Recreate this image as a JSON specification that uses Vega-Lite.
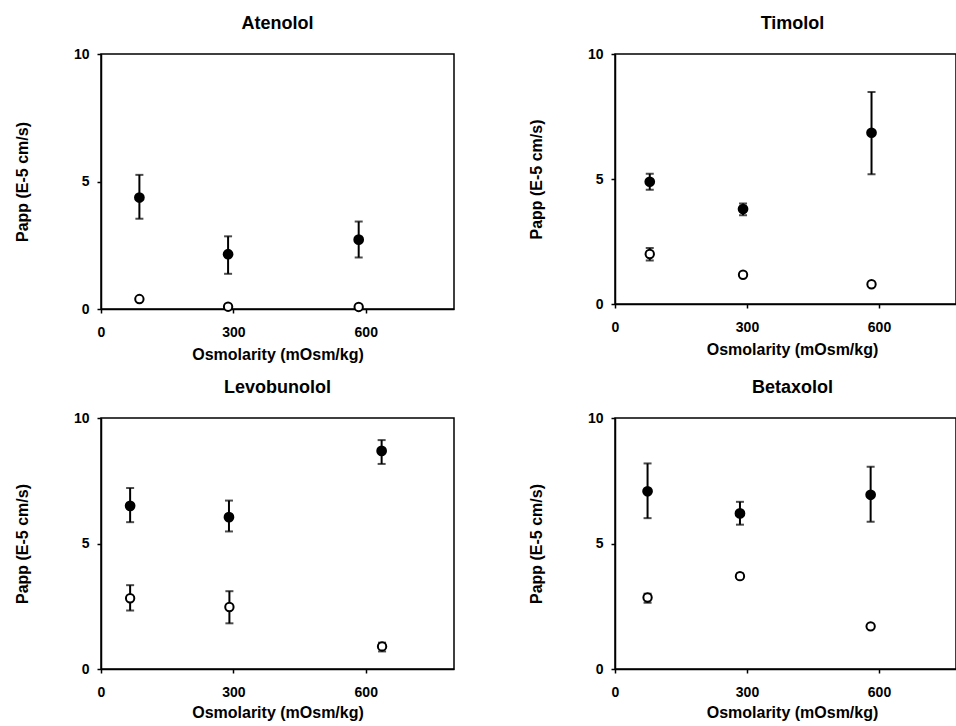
{
  "$schema": "https://vega.github.io/schema/vega-lite/v6.json",
  "background": "white",
  "padding": {"left": 13, "top": 14, "right": 0, "bottom": 0},
  "datasets": {
    "pts": [
      {"drug": "Atenolol", "cond": "filled", "x": 87, "y": 4.37, "lo": 3.54, "hi": 5.26},
      {"drug": "Atenolol", "cond": "filled", "x": 288, "y": 2.15, "lo": 1.38, "hi": 2.85},
      {"drug": "Atenolol", "cond": "filled", "x": 584, "y": 2.72, "lo": 2.02, "hi": 3.43},
      {"drug": "Atenolol", "cond": "open", "x": 87, "y": 0.39, "lo": null, "hi": null},
      {"drug": "Atenolol", "cond": "open", "x": 288, "y": 0.09, "lo": null, "hi": null},
      {"drug": "Atenolol", "cond": "open", "x": 584, "y": 0.08, "lo": null, "hi": null},
      {"drug": "Timolol", "cond": "filled", "x": 79, "y": 4.89, "lo": 4.57, "hi": 5.21},
      {"drug": "Timolol", "cond": "filled", "x": 291, "y": 3.8, "lo": 3.55, "hi": 4.02},
      {"drug": "Timolol", "cond": "filled", "x": 583, "y": 6.85, "lo": 5.19, "hi": 8.48},
      {"drug": "Timolol", "cond": "open", "x": 79, "y": 2.0, "lo": 1.74, "hi": 2.24},
      {"drug": "Timolol", "cond": "open", "x": 291, "y": 1.17, "lo": null, "hi": null},
      {"drug": "Timolol", "cond": "open", "x": 583, "y": 0.79, "lo": null, "hi": null},
      {"drug": "Levobunolol", "cond": "filled", "x": 66, "y": 6.5, "lo": 5.85, "hi": 7.21},
      {"drug": "Levobunolol", "cond": "filled", "x": 290, "y": 6.05, "lo": 5.48, "hi": 6.71},
      {"drug": "Levobunolol", "cond": "filled", "x": 636, "y": 8.69, "lo": 8.17, "hi": 9.12},
      {"drug": "Levobunolol", "cond": "open", "x": 66, "y": 2.82, "lo": 2.33, "hi": 3.34},
      {"drug": "Levobunolol", "cond": "open", "x": 291, "y": 2.47, "lo": 1.82, "hi": 3.1},
      {"drug": "Levobunolol", "cond": "open", "x": 637, "y": 0.9, "lo": 0.7, "hi": 1.05},
      {"drug": "Betaxolol", "cond": "filled", "x": 74, "y": 7.08, "lo": 6.01, "hi": 8.19},
      {"drug": "Betaxolol", "cond": "filled", "x": 284, "y": 6.2, "lo": 5.75, "hi": 6.66},
      {"drug": "Betaxolol", "cond": "filled", "x": 581, "y": 6.94, "lo": 5.87, "hi": 8.06},
      {"drug": "Betaxolol", "cond": "open", "x": 74, "y": 2.85, "lo": 2.64, "hi": 3.0},
      {"drug": "Betaxolol", "cond": "open", "x": 284, "y": 3.7, "lo": 3.6, "hi": 3.8},
      {"drug": "Betaxolol", "cond": "open", "x": 581, "y": 1.7, "lo": null, "hi": null}
    ]
  },
  "data": {"name": "pts"},
  "columns": 2,
  "align": "each",
  "spacing": {"column": 72, "row": 15},
  "concat": [
    {
      "title": {"text": "Atenolol"},
      "width": 353, "height": 255,
      "transform": [{"filter": "datum.drug == 'Atenolol'"}],
      "encoding": {
        "x": {"field": "x", "type": "quantitative", "scale": {"domain": [0, 800]}, "axis": {"title": "Osmolarity  (mOsm/kg)", "values": [0, 300, 600]}},
        "y": {"field": "y", "type": "quantitative", "scale": {"domain": [0, 10]}, "axis": {"title": "Papp  (E-5  cm/s)", "values": [0, 5, 10]}}
      },
      "layer": [
        {"transform": [{"filter": "isValid(datum.lo)"}], "mark": {"type": "rule", "strokeWidth": 2}, "encoding": {"y": {"field": "lo", "type": "quantitative"}, "y2": {"field": "hi"}}},
        {"transform": [{"filter": "isValid(datum.lo)"}], "mark": {"type": "tick", "orient": "horizontal", "size": 8, "thickness": 2}, "encoding": {"y": {"field": "lo", "type": "quantitative"}}},
        {"transform": [{"filter": "isValid(datum.hi)"}], "mark": {"type": "tick", "orient": "horizontal", "size": 8, "thickness": 2}, "encoding": {"y": {"field": "hi", "type": "quantitative"}}},
        {"transform": [{"filter": "datum.cond == 'filled'"}], "mark": {"type": "point", "shape": "circle", "filled": true, "size": 115, "color": "black", "opacity": 1}},
        {"transform": [{"filter": "datum.cond == 'open'"}], "mark": {"type": "point", "shape": "circle", "filled": false, "fill": "white", "fillOpacity": 1, "size": 70, "stroke": "black", "strokeWidth": 2, "opacity": 1}}
      ]
    },
    {
      "title": {"text": "Timolol", "dx": 7},
      "width": 341, "height": 250,
      "transform": [{"filter": "datum.drug == 'Timolol'"}],
      "encoding": {
        "x": {"field": "x", "type": "quantitative", "scale": {"domain": [0, 775]}, "axis": {"title": "Osmolarity  (mOsm/kg)", "titleX": 177, "values": [0, 300, 600]}},
        "y": {"field": "y", "type": "quantitative", "scale": {"domain": [0, 10]}, "axis": {"title": "Papp  (E-5  cm/s)", "values": [0, 5, 10]}}
      },
      "layer": [
        {"transform": [{"filter": "isValid(datum.lo)"}], "mark": {"type": "rule", "strokeWidth": 2}, "encoding": {"y": {"field": "lo", "type": "quantitative"}, "y2": {"field": "hi"}}},
        {"transform": [{"filter": "isValid(datum.lo)"}], "mark": {"type": "tick", "orient": "horizontal", "size": 8, "thickness": 2}, "encoding": {"y": {"field": "lo", "type": "quantitative"}}},
        {"transform": [{"filter": "isValid(datum.hi)"}], "mark": {"type": "tick", "orient": "horizontal", "size": 8, "thickness": 2}, "encoding": {"y": {"field": "hi", "type": "quantitative"}}},
        {"transform": [{"filter": "datum.cond == 'filled'"}], "mark": {"type": "point", "shape": "circle", "filled": true, "size": 115, "color": "black", "opacity": 1}},
        {"transform": [{"filter": "datum.cond == 'open'"}], "mark": {"type": "point", "shape": "circle", "filled": false, "fill": "white", "fillOpacity": 1, "size": 70, "stroke": "black", "strokeWidth": 2, "opacity": 1}}
      ]
    },
    {
      "title": {"text": "Levobunolol"},
      "width": 353, "height": 251,
      "transform": [{"filter": "datum.drug == 'Levobunolol'"}],
      "encoding": {
        "x": {"field": "x", "type": "quantitative", "scale": {"domain": [0, 800]}, "axis": {"title": "Osmolarity  (mOsm/kg)", "values": [0, 300, 600], "titlePadding": 5}},
        "y": {"field": "y", "type": "quantitative", "scale": {"domain": [0, 10]}, "axis": {"title": "Papp  (E-5  cm/s)", "values": [0, 5, 10]}}
      },
      "layer": [
        {"transform": [{"filter": "isValid(datum.lo)"}], "mark": {"type": "rule", "strokeWidth": 2}, "encoding": {"y": {"field": "lo", "type": "quantitative"}, "y2": {"field": "hi"}}},
        {"transform": [{"filter": "isValid(datum.lo)"}], "mark": {"type": "tick", "orient": "horizontal", "size": 8, "thickness": 2}, "encoding": {"y": {"field": "lo", "type": "quantitative"}}},
        {"transform": [{"filter": "isValid(datum.hi)"}], "mark": {"type": "tick", "orient": "horizontal", "size": 8, "thickness": 2}, "encoding": {"y": {"field": "hi", "type": "quantitative"}}},
        {"transform": [{"filter": "datum.cond == 'filled'"}], "mark": {"type": "point", "shape": "circle", "filled": true, "size": 115, "color": "black", "opacity": 1}},
        {"transform": [{"filter": "datum.cond == 'open'"}], "mark": {"type": "point", "shape": "circle", "filled": false, "fill": "white", "fillOpacity": 1, "size": 70, "stroke": "black", "strokeWidth": 2, "opacity": 1}}
      ]
    },
    {
      "title": {"text": "Betaxolol", "dx": 7},
      "width": 341, "height": 251,
      "transform": [{"filter": "datum.drug == 'Betaxolol'"}],
      "encoding": {
        "x": {"field": "x", "type": "quantitative", "scale": {"domain": [0, 775]}, "axis": {"title": "Osmolarity  (mOsm/kg)", "titleX": 177, "values": [0, 300, 600], "titlePadding": 5}},
        "y": {"field": "y", "type": "quantitative", "scale": {"domain": [0, 10]}, "axis": {"title": "Papp   (E-5   cm/s)", "values": [0, 5, 10]}}
      },
      "layer": [
        {"transform": [{"filter": "isValid(datum.lo)"}], "mark": {"type": "rule", "strokeWidth": 2}, "encoding": {"y": {"field": "lo", "type": "quantitative"}, "y2": {"field": "hi"}}},
        {"transform": [{"filter": "isValid(datum.lo)"}], "mark": {"type": "tick", "orient": "horizontal", "size": 8, "thickness": 2}, "encoding": {"y": {"field": "lo", "type": "quantitative"}}},
        {"transform": [{"filter": "isValid(datum.hi)"}], "mark": {"type": "tick", "orient": "horizontal", "size": 8, "thickness": 2}, "encoding": {"y": {"field": "hi", "type": "quantitative"}}},
        {"transform": [{"filter": "datum.cond == 'filled'"}], "mark": {"type": "point", "shape": "circle", "filled": true, "size": 115, "color": "black", "opacity": 1}},
        {"transform": [{"filter": "datum.cond == 'open'"}], "mark": {"type": "point", "shape": "circle", "filled": false, "fill": "white", "fillOpacity": 1, "size": 70, "stroke": "black", "strokeWidth": 2, "opacity": 1}}
      ]
    }
  ],
  "config": {
    "font": "Liberation Sans",
    "view": {"stroke": "black", "strokeWidth": 1.5},
    "title": {"fontSize": 18, "fontWeight": "bold", "color": "black", "anchor": "middle", "offset": 14, "font": "Liberation Sans"},
    "mark": {"color": "black"},
    "rule": {"color": "black"},
    "tick": {"color": "black"},
    "axis": {
      "grid": false,
      "domainColor": "black", "domainWidth": 1.5,
      "tickColor": "black", "tickWidth": 1.5, "tickSize": 4,
      "labelFont": "Liberation Sans", "labelFontSize": 14, "labelFontWeight": "bold", "labelColor": "black",
      "titleFont": "Liberation Sans", "titleFontSize": 16, "titleFontWeight": "bold", "titleColor": "black"
    },
    "axisX": {"labelPadding": 12, "titlePadding": 7, "labelFlush": false},
    "axisY": {"labelPadding": 8, "minExtent": 55, "maxExtent": 55, "titlePadding": 16}
  }
}
